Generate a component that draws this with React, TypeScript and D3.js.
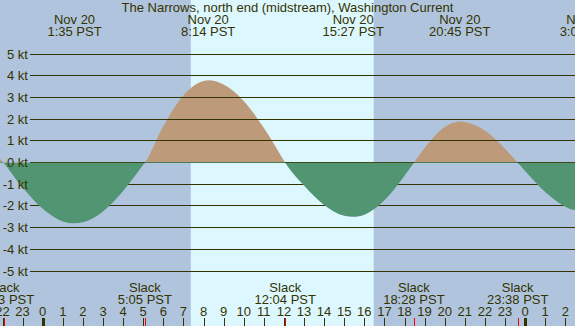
import { useEffect, useRef } from 'react'
import * as d3 from 'd3'

const title = 'The Narrows, north end (midstream), Washington Current'

// current speed in knots, hours from midnight Nov 20 (PST)
const flowHours = [
  -3, -1.95, -1, 0, 1, 1.583, 2, 3, 4, 5, 5.083, 6, 7, 8, 8.233, 9, 10, 11, 12,
  12.067, 13, 14, 15, 15.45, 16, 17, 18, 18.467, 19, 20, 20.75, 21, 22, 23,
  23.633, 24, 25, 26, 27
]
const flowKnots = [
  1.0, 0, -1.15, -2.13, -2.71, -2.8, -2.75, -2.25, -1.31, -0.1, 0, 1.68, 3.1,
  3.77, 3.8, 3.61, 2.85, 1.61, 0.1, 0, -1.05, -1.95, -2.45, -2.5, -2.4, -1.73,
  -0.6, 0, 0.68, 1.65, 1.9, 1.88, 1.48, 0.64, 0, -0.38, -1.35, -2.03, -2.3
]

const slackHours = [-1.95, 5.083, 12.067, 18.467, 23.633]
const slackLabels = ['22:03 PST', '5:05 PST', '12:04 PST', '18:28 PST', '23:38 PST']

const peakHours = [1.583, 8.233, 15.45, 20.75, 27.067]
const peakDates = ['Nov 20', 'Nov 20', 'Nov 20', 'Nov 20', 'Nov 21']
const peakLabels = ['1:35 PST', '8:14 PST', '15:27 PST', '20:45 PST', '3:04 PST']

const sunrise = 7.367
const sunset = 16.467

const knotTicks = [5, 4, 3, 2, 1, 0, -1, -2, -3, -4, -5]
const hourTicks = d3.range(-2, 27)

const W = 575
const H = 326
const ink = '#333300'
const font = '"Liberation Sans", Arial, sans-serif'

export default function App() {
  const svgRef = useRef(null)

  useEffect(() => {
    document.body.style.margin = '0'
    svgRef.current.innerHTML = ''

    const x = d3.scaleLinear().domain([0, 24]).range([42.7, 525.1])
    const y = d3.scaleLinear().domain([-5, 5]).range([271, 54.3])
    const zero = y(0)

    const svg = d3.select(svgRef.current)

    svg.append('rect')
      .attr('width', W).attr('height', H)
      .attr('fill', '#b0c4de')
    svg.append('rect')
      .attr('x', x(sunrise)).attr('width', x(sunset) - x(sunrise))
      .attr('height', H)
      .attr('fill', '#ddf7ff')

    const defs = svg.append('defs')
    defs.append('clipPath').attr('id', 'above')
      .append('rect').attr('width', W).attr('height', Math.round(zero) + 1)
    defs.append('clipPath').attr('id', 'below')
      .append('rect').attr('y', Math.floor(zero)).attr('width', W).attr('height', H)

    const pts = flowHours.map((h, i) => [h, flowKnots[i]])
    const area = d3.area()
      .x(d => x(d[0]))
      .y0(zero)
      .y1(d => y(d[1]))
      .curve(d3.curveMonotoneX)

    svg.append('path')
      .attr('d', area(pts))
      .attr('fill', '#bd9b7a')
      .attr('clip-path', 'url(#above)')

    svg.append('g')
      .selectAll('line')
      .data(knotTicks)
      .join('line')
        .attr('x1', 30).attr('x2', W)
        .attr('y1', d => Math.floor(y(d)) + 0.5)
        .attr('y2', d => Math.floor(y(d)) + 0.5)
        .attr('stroke', ink)

    svg.append('path')
      .attr('d', area(pts))
      .attr('fill', '#529572')
      .attr('clip-path', 'url(#below)')

    const txt = svg.append('g')
      .style('font-family', font)
      .style('font-size', '13px')
      .attr('fill', ink)

    txt.selectAll('.kt')
      .data(knotTicks)
      .join('text')
        .attr('x', 28)
        .attr('y', d => y(d) + 4.5)
        .attr('text-anchor', 'end')
        .text(d => `${d} kt`)

    txt.append('text')
      .attr('x', W / 2).attr('y', 12)
      .attr('text-anchor', 'middle')
      .text(title)

    txt.selectAll('.pd')
      .data(peakHours)
      .join('text')
        .attr('x', d => x(d)).attr('y', 24)
        .attr('text-anchor', 'middle')
        .text((d, i) => peakDates[i])
    txt.selectAll('.pt')
      .data(peakHours)
      .join('text')
        .attr('x', d => x(d)).attr('y', 36)
        .attr('text-anchor', 'middle')
        .text((d, i) => peakLabels[i])

    txt.selectAll('.sl')
      .data(slackHours)
      .join('text')
        .attr('x', d => x(d)).attr('y', 292)
        .attr('text-anchor', 'middle')
        .text('Slack')
    txt.selectAll('.st')
      .data(slackHours)
      .join('text')
        .attr('x', d => x(d)).attr('y', 304)
        .attr('text-anchor', 'middle')
        .text((d, i) => slackLabels[i])

    txt.selectAll('.hr')
      .data(hourTicks)
      .join('text')
        .attr('x', d => x(d)).attr('y', 316)
        .attr('text-anchor', 'middle')
        .text(d => ((d % 24) + 24) % 24)

    svg.append('g')
      .selectAll('line')
      .data(hourTicks)
      .join('line')
        .attr('x1', d => Math.round(x(d)) + 0.5)
        .attr('x2', d => Math.round(x(d)) + 0.5)
        .attr('y1', 318).attr('y2', H)
        .attr('stroke', ink)
        .attr('stroke-width', d => (d % 24 === 0 ? 3 : 1))

    svg.append('g')
      .selectAll('line')
      .data(slackHours)
      .join('line')
        .attr('x1', d => Math.round(x(d)) + 0.5)
        .attr('x2', d => Math.round(x(d)) + 0.5)
        .attr('y1', 318).attr('y2', H)
        .attr('stroke', '#ee0000')
  }, [])

  return (
    <svg
      ref={ svgRef }
      width={ W }
      height={ H }
      viewBox={ `0 0 ${W} ${H}` }
      style={ { display: 'block' } }
    />
  )
}
